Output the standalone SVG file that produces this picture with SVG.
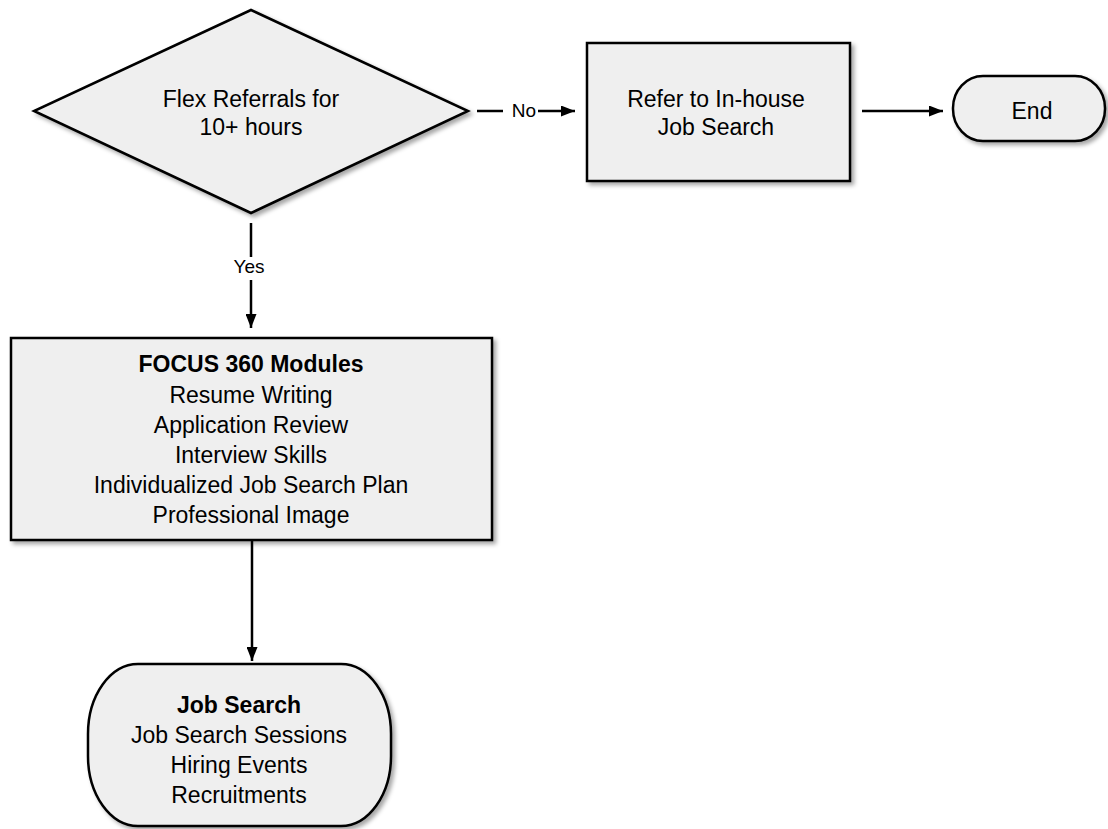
<svg xmlns="http://www.w3.org/2000/svg" width="1108" height="829" viewBox="0 0 1108 829">
<style>
.shape{fill:#efefef;stroke:#000;stroke-width:2.5;filter:url(#sh)}
.t{font-family:"Liberation Sans",Arial,sans-serif;font-size:23px;fill:#000;text-anchor:middle}
.l{font-size:19px}
.b{font-weight:bold}
.c{stroke:#000;stroke-width:2.5;fill:none}
</style>
<defs>
<filter id="sh" x="-10%" y="-10%" width="125%" height="125%">
<feDropShadow dx="3" dy="3" stdDeviation="2" flood-color="#000" flood-opacity="0.35"/>
</filter>
<marker id="ah" markerWidth="14" markerHeight="11" refX="14" refY="5.5" orient="auto" markerUnits="userSpaceOnUse">
<path d="M0,0 L14,5.5 L0,11 Z" fill="#000"/>
</marker>
</defs>
<rect width="1108" height="829" fill="#fff"/>
<g id="connectors">
<line class="c" x1="477" y1="111" x2="503" y2="111"/>
<text class="t l" x="524" y="117">No</text>
<line class="c" x1="538" y1="111" x2="575" y2="111" marker-end="url(#ah)"/>
<line class="c" x1="862" y1="111" x2="943" y2="111" marker-end="url(#ah)"/>
<line class="c" x1="251" y1="223" x2="251" y2="257"/>
<text class="t l" x="249" y="273">Yes</text>
<line class="c" x1="251" y1="280" x2="251" y2="328" marker-end="url(#ah)"/>
<line class="c" x1="252" y1="541" x2="252" y2="661" marker-end="url(#ah)"/>
</g>
<g id="decision">
<polygon class="shape" points="251,10 468,111 251,213 34,111"/>
<text class="t" x="251" y="107">Flex Referrals for</text>
<text class="t" x="251" y="135">10+ hours</text>
</g>
<g id="refer">
<rect class="shape" x="587" y="43" width="263" height="138"/>
<text class="t" x="716" y="107">Refer to In-house</text>
<text class="t" x="716" y="135">Job Search</text>
</g>
<g id="end">
<rect class="shape" x="953" y="76" width="152" height="65" rx="30" ry="32"/>
<text class="t" x="1032" y="119">End</text>
</g>
<g id="focus">
<rect class="shape" x="11" y="338" width="481" height="202"/>
<text class="t b" x="251" y="372">FOCUS 360 Modules</text>
<text class="t" x="251" y="403">Resume Writing</text>
<text class="t" x="251" y="433">Application Review</text>
<text class="t" x="251" y="463">Interview Skills</text>
<text class="t" x="251" y="493">Individualized Job Search Plan</text>
<text class="t" x="251" y="523">Professional Image</text>
</g>
<g id="jobsearch">
<rect class="shape" x="88" y="664" width="303" height="162" rx="50" ry="70"/>
<text class="t b" x="239" y="713">Job Search</text>
<text class="t" x="239" y="743">Job Search Sessions</text>
<text class="t" x="239" y="773">Hiring Events</text>
<text class="t" x="239" y="803">Recruitments</text>
</g>
</svg>
